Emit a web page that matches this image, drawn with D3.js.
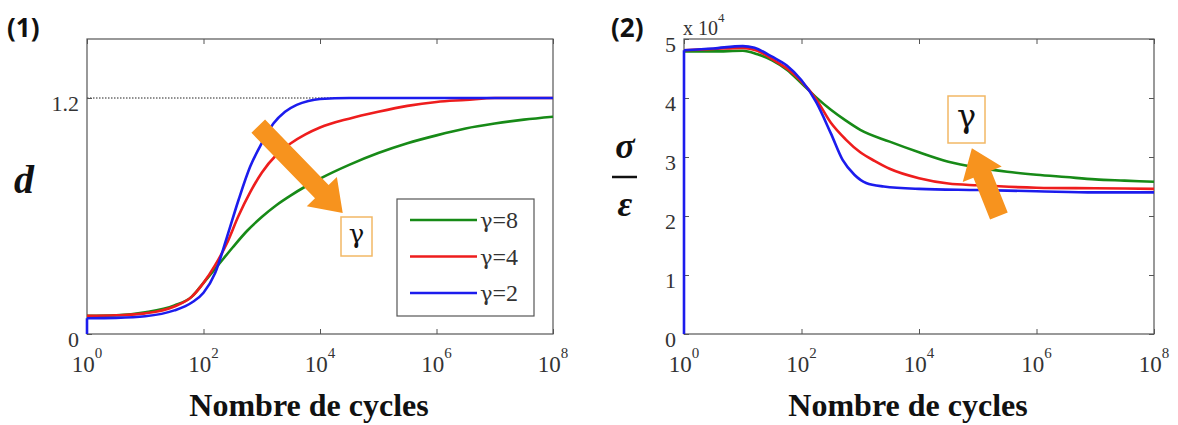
<!DOCTYPE html>
<html><head><meta charset="utf-8">
<script src="https://cdn.jsdelivr.net/npm/d3@7"></script>
<style>body{margin:0;background:#fff}</style></head>
<body>
<svg id="c" width="1178" height="425"></svg>
<script>
// ---------- data (x given as log10 of number of cycles) ----------
const xTickExps = [0, 2, 4, 6, 8];
const seriesGammas = ["8", "4", "2"];
const seriesColors = ["#178a17", "#ee1d1d", "#1c1ced"];

// Panel 1 : damage d
const dY_ticks = [0, 1.2];
const dY_labels = ["0", "1.2"];
const dGreenExp = [0,0.5,1,1.5,1.8,2,2.25,2.5,2.75,3,3.25,3.5,3.75,4,4.5,5,5.5,6,6.5,7,7.5,8];
const dGreenVal = [0.092,0.095,0.11,0.145,0.19,0.26,0.35,0.44,0.525,0.595,0.655,0.705,0.75,0.79,0.86,0.92,0.97,1.01,1.045,1.07,1.09,1.105];
const dRedExp = [0,0.5,1,1.5,1.8,2,2.2,2.4,2.6,2.8,3,3.25,3.5,3.75,4,4.5,5,5.5,6,6.5,7,8];
const dRedVal = [0.092,0.095,0.105,0.14,0.19,0.26,0.35,0.46,0.6,0.72,0.82,0.91,0.97,1.015,1.05,1.095,1.13,1.16,1.18,1.19,1.2,1.2];
const dBlueExp = [0,0.5,1,1.5,1.8,2,2.2,2.4,2.6,2.8,3,3.2,3.4,3.6,3.8,4,4.5,5,6,7,8];
const dBlueVal = [0.08,0.082,0.09,0.12,0.16,0.21,0.31,0.49,0.68,0.85,0.97,1.07,1.13,1.165,1.185,1.195,1.2,1.2,1.2,1.2,1.2];
const dBlueStart = 0;

// Panel 2 : sigma/epsilon (x 10^4)
const sY_ticks = [0, 1, 2, 3, 4, 5];
const sGreenExp = [0,0.5,1,1.25,1.5,1.75,2,2.25,2.5,2.75,3,3.5,4,4.5,5,5.5,6,6.5,7,7.5,8];
const sGreenVal = [4.79,4.79,4.8,4.74,4.64,4.48,4.25,4.01,3.8,3.62,3.46,3.26,3.08,2.92,2.82,2.75,2.7,2.66,2.62,2.6,2.58];
const sRedExp = [0,0.5,1,1.25,1.5,1.75,2,2.25,2.5,2.75,3,3.25,3.5,4,4.5,5,6,7,8];
const sRedVal = [4.81,4.83,4.85,4.8,4.66,4.5,4.28,3.98,3.58,3.3,3.08,2.93,2.8,2.64,2.55,2.52,2.48,2.47,2.46];
const sBlueExp = [0,0.5,1,1.2,1.5,1.75,2,2.25,2.5,2.7,2.9,3.1,3.4,4,5,6,7,8];
const sBlueVal = [4.81,4.84,4.88,4.85,4.7,4.55,4.3,3.93,3.4,2.95,2.7,2.56,2.5,2.46,2.44,2.42,2.4,2.4];
const sBlueStart = 0;

// annotation arrows (data units: [exp, value])
const arrow1 = [[2.94, 1.057], [4.39, 0.615]];
const arrow2 = [[5.36, 2.0], [4.9, 3.15]];

// ---------- drawing ----------
const svg = d3.select("#c");
const serif = "'Liberation Serif','Times New Roman',serif";
const greekSerif = "'DejaVu Serif',serif";
const axisCol = "#555";
const orange = "#f7931e";

function makePanel(p) {
  const x = d3.scaleLog().domain([1, 1e8]).range([p.x0, p.x1]);
  const y = d3.scaleLinear().domain(p.yDomain).range([p.y1, p.y0]);
  const g = svg.append("g");
  return {x, y, g};
}

function frame(P, p, yTicks, yLabels, rightTicks) {
  const {x, y, g} = P;
  const xt = xTickExps.map(e => Math.pow(10, e));
  const style = s => { s.select(".domain").remove(); s.selectAll("line").attr("stroke", axisCol); };
  g.append("g").attr("transform", `translate(0,${p.y1})`)
    .call(d3.axisBottom(x).tickValues(xt).tickSize(-5).tickFormat("")).call(style);
  g.append("g").attr("transform", `translate(0,${p.y0})`)
    .call(d3.axisTop(x).tickValues(xt).tickSize(-5).tickFormat("")).call(style);
  g.append("g").attr("transform", `translate(${p.x0},0)`)
    .call(d3.axisLeft(y).tickValues(yTicks).tickSize(-5).tickFormat("")).call(style);
  if (rightTicks) {
    g.append("g").attr("transform", `translate(${p.x1},0)`)
      .call(d3.axisRight(y).tickValues(yTicks).tickSize(-5).tickFormat("")).call(style);
  }
  g.append("rect").attr("x", p.x0).attr("y", p.y0)
    .attr("width", p.x1 - p.x0).attr("height", p.y1 - p.y0)
    .attr("fill", "none").attr("stroke", axisCol).attr("stroke-width", 1.2);
  xTickExps.forEach(e => {
    const t = g.append("text").attr("x", x(Math.pow(10, e))).attr("y", 372)
      .attr("text-anchor", "middle").attr("font-family", serif).attr("font-size", 23).attr("fill", "#333");
    t.append("tspan").text("10");
    t.append("tspan").attr("dy", -14).attr("font-size", 15).text(String(e));
  });
  yTicks.forEach((v, i) => {
    g.append("text").attr("x", p.x0 - 8).attr("y", y(v) + 12.5)
      .attr("text-anchor", "end").attr("font-family", serif).attr("font-size", 22).attr("fill", "#333")
      .text(yLabels[i]);
  });
  g.append("text").attr("x", (p.x0 + p.x1) / 2 - 11).attr("y", 416)
    .attr("text-anchor", "middle").attr("font-family", serif).attr("font-weight", "bold")
    .attr("font-size", 32).attr("fill", "#111").text("Nombre de cycles");
}

function drawSeries(P, exps, vals, color, startVal) {
  const {x, y, g} = P;
  const pts = exps.map((e, i) => [Math.pow(10, e), vals[i]]);
  const line = d3.line().x(d => x(d[0])).y(d => y(d[1])).curve(d3.curveMonotoneX);
  if (startVal !== undefined) {
    g.append("path").attr("d", d3.line().x(d => x(d[0])).y(d => y(d[1]))([[1, startVal], pts[0]]))
      .attr("fill", "none").attr("stroke", color).attr("stroke-width", 2.6);
  }
  g.append("path").attr("d", line(pts)).attr("fill", "none")
    .attr("stroke", color).attr("stroke-width", 2.6).attr("stroke-linejoin", "round");
}

function drawArrow(P, a, shaftW, headW, headL) {
  const {x, y, g} = P;
  const x0 = x(Math.pow(10, a[0][0])), y0 = y(a[0][1]);
  const x1 = x(Math.pow(10, a[1][0])), y1 = y(a[1][1]);
  const L = Math.hypot(x1 - x0, y1 - y0);
  const ang = Math.atan2(y1 - y0, x1 - x0) * 180 / Math.PI;
  const pts = [[0, -shaftW/2], [L - headL, -shaftW/2], [L - headL, -headW/2], [L, 0],
               [L - headL, headW/2], [L - headL, shaftW/2], [0, shaftW/2]];
  g.append("polygon").attr("points", pts.map(p => p.join(",")).join(" "))
    .attr("transform", `translate(${x0},${y0}) rotate(${ang})`).attr("fill", orange);
}

function gammaBox(g, bx, by, bw, bh, fs) {
  g.append("rect").attr("x", bx).attr("y", by).attr("width", bw).attr("height", bh)
    .attr("fill", "#fff").attr("stroke", "#f2b865").attr("stroke-width", 1.5);
  g.append("text").attr("x", bx + bw / 2).attr("y", by + bh * 0.66)
    .attr("text-anchor", "middle").attr("font-family", greekSerif).attr("font-size", fs)
    .attr("fill", "#111").text("γ");
}

// ---- Panel 1 ----
const p1 = {x0: 87, x1: 553, y0: 39, y1: 334, yDomain: [0, 1.5]};
const P1 = makePanel(p1);
P1.g.append("line").attr("x1", p1.x0).attr("x2", p1.x1)
  .attr("y1", P1.y(1.2)).attr("y2", P1.y(1.2))
  .attr("stroke", "#222").attr("stroke-width", 1).attr("stroke-dasharray", "1.5,1.5");
frame(P1, p1, dY_ticks, dY_labels, false);
drawSeries(P1, dGreenExp, dGreenVal, seriesColors[0]);
drawSeries(P1, dRedExp, dRedVal, seriesColors[1]);
drawSeries(P1, dBlueExp, dBlueVal, seriesColors[2], dBlueStart);
drawArrow(P1, arrow1, 19, 42, 30);
gammaBox(P1.g, 341, 217, 31, 39, 26);

// legend
const lg = P1.g.append("g");
lg.append("rect").attr("x", 397).attr("y", 199).attr("width", 137).attr("height", 117)
  .attr("fill", "#fff").attr("stroke", axisCol).attr("stroke-width", 1.2);
seriesGammas.forEach((n, i) => {
  const yy = 220 + i * 36.5;
  lg.append("line").attr("x1", 410).attr("x2", 477).attr("y1", yy).attr("y2", yy)
    .attr("stroke", seriesColors[i]).attr("stroke-width", 2.6);
  const t = lg.append("text").attr("x", 480).attr("y", yy + 8).attr("font-family", serif)
    .attr("font-size", 24).attr("fill", "#333");
  t.append("tspan").attr("font-family", greekSerif).attr("font-size", 21).text("γ");
  t.append("tspan").text("=" + n);
});

// y title "d" and panel label
svg.append("text").attr("x", 14).attr("y", 193).attr("font-family", serif)
  .attr("font-weight", "bold").attr("font-style", "italic").attr("font-size", 40)
  .attr("fill", "#111").text("d");
svg.append("text").attr("x", 7).attr("y", 37).attr("font-family", "'Open Sans',sans-serif")
  .attr("font-weight", "bold").attr("font-size", 26).attr("fill", "#111").text("(1)");

// ---- Panel 2 ----
const p2 = {x0: 684, x1: 1154, y0: 39, y1: 334, yDomain: [0, 5]};
const P2 = makePanel(p2);
frame(P2, p2, sY_ticks, sY_ticks.map(String), true);
drawSeries(P2, sGreenExp, sGreenVal, seriesColors[0]);
drawSeries(P2, sRedExp, sRedVal, seriesColors[1]);
drawSeries(P2, sBlueExp, sBlueVal, seriesColors[2], sBlueStart);
drawArrow(P2, arrow2, 19, 42, 28);
gammaBox(P2.g, 948, 96, 37, 47, 32);

const mt = svg.append("text").attr("x", 683).attr("y", 35).attr("font-family", serif)
  .attr("font-size", 20).attr("fill", "#333");
mt.append("tspan").text("x 10");
mt.append("tspan").attr("dy", -13).attr("font-size", 13).text("4");

svg.append("text").attr("x", 625).attr("y", 158).attr("text-anchor", "middle").attr("font-family", serif)
  .attr("font-weight", "bold").attr("font-style", "italic").attr("font-size", 36).attr("fill", "#111").text("σ");
svg.append("line").attr("x1", 612).attr("x2", 637).attr("y1", 177).attr("y2", 177)
  .attr("stroke", "#111").attr("stroke-width", 2.5);
svg.append("text").attr("x", 625).attr("y", 216).attr("text-anchor", "middle").attr("font-family", serif)
  .attr("font-weight", "bold").attr("font-style", "italic").attr("font-size", 36).attr("fill", "#111").text("ε");
svg.append("text").attr("x", 611).attr("y", 37).attr("font-family", "'Open Sans',sans-serif")
  .attr("font-weight", "bold").attr("font-size", 26).attr("fill", "#111").text("(2)");
</script>
</body></html>
